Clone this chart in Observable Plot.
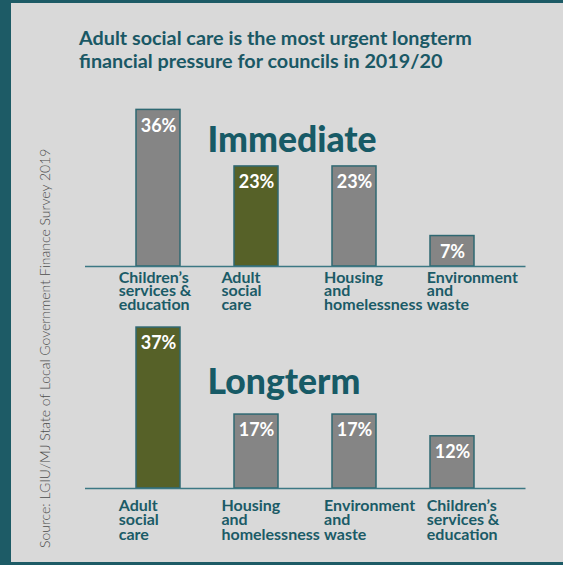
<!DOCTYPE html>
<html>
<head>
<meta charset="utf-8">
<script src="https://cdn.jsdelivr.net/npm/d3@7"></script>
<script src="https://cdn.jsdelivr.net/npm/@observablehq/plot@0.6"></script>
<style>
  html, body { margin: 0; padding: 0; background: #d9d9d9; overflow: hidden; }
  #wrap {
    position: relative; width: 563px; height: 565px; overflow: hidden;
    background: #d9d9d9;
    font-family: Lato, sans-serif;
  }
  .bd { position: absolute; background: #1d5b66; }
  #title {
    position: absolute; left: 79px; top: 25.5px;
    font-size: 19.8px; line-height: 23.5px; font-weight: 700; color: #1a5865;
    white-space: nowrap;
  }
  .panel { position: absolute; left: 0; }
  .panel svg { overflow: visible; }
  #source { position: absolute; left: 0; top: 0; overflow: visible; }
</style>
</head>
<body>
<div id="wrap">
  <div class="bd" style="left:0;top:0;width:11px;height:565px"></div>
  <div class="bd" style="left:0;top:0;width:563px;height:3px"></div>
  <div class="bd" style="left:0;top:562px;width:563px;height:3px"></div>
  <div id="title">Adult social care is the most urgent longterm<br>financial pressure for councils in 2019/20</div>
  <div class="panel" id="p1" style="top:90px"></div>
  <div class="panel" id="p2" style="top:300px"></div>
  <svg id="source" width="563" height="565"></svg>
</div>
<script>
// ---- data ----
const sourceText = "Source: LGIU/MJ State of Local Government Finance Survey 2019";
const highlightCategory = "Adult\nsocial\ncare";

const immediateTitle = "Immediate";
const immediateCategories = ["Children’s\nservices &\neducation", "Adult\nsocial\ncare", "Housing\nand\nhomelessness", "Environment\nand\nwaste"];
const immediateValues = [36, 23, 23, 7];

const longtermTitle = "Longterm";
const longtermCategories = ["Adult\nsocial\ncare", "Housing\nand\nhomelessness", "Environment\nand\nwaste", "Children’s\nservices &\neducation"];
const longtermValues = [37, 17, 17, 12];

// ---- styles ----
const GRAY = "#858585", GREEN = "#566128", STROKE = "#2f6872", AXIS = "#3c7884", TEAL = "#1b5b67";
const X_RANGE = [85, 525.5], PAD_IN = 0.55, PAD_OUT = 0.5;
const LABEL_RANGE = [117, 428]; // left edges of the category label slots

function panel({title, categories, values, height, marginTop, marginBottom, titleDy, labelDy, labelLineHeight}) {
  const data = categories.map((c, i) => ({cat: c, val: values[i]}));
  const band = d3.scaleBand().domain(categories).range(X_RANGE).paddingInner(PAD_IN).paddingOuter(PAD_OUT);
  const slot = d3.scalePoint().domain(categories).range(LABEL_RANGE);
  const labelMarks = data.map(d => Plot.text([d], {
    x: "cat", y: () => 0, text: "cat", textAnchor: "start", lineAnchor: "bottom",
    lineHeight: labelLineHeight, dx: slot(d.cat) - (band(d.cat) + band.bandwidth() / 2), dy: labelDy,
    fill: TEAL, fontWeight: 700, fontSize: 16
  }));
  return Plot.plot({
    width: 563,
    height,
    marginLeft: X_RANGE[0],
    marginRight: 563 - X_RANGE[1],
    marginTop,
    marginBottom,
    style: {fontFamily: "Lato, sans-serif", background: "transparent", overflow: "visible"},
    x: {domain: categories, type: "band", paddingInner: PAD_IN, paddingOuter: PAD_OUT, axis: null},
    y: {domain: [0, 40], axis: null},
    marks: [
      Plot.barY(data, {x: "cat", y: "val", fill: d => d.cat === highlightCategory ? GREEN : GRAY, stroke: STROKE, strokeWidth: 1.5}),
      Plot.ruleY([0], {stroke: AXIS, strokeWidth: 1.5}),
      Plot.text(data, {x: "cat", y: "val", text: d => d.val + "%", lineAnchor: "bottom", dy: 21.7, fill: "white", fontWeight: 700, fontSize: 18}),
      ...labelMarks,
      Plot.text([title], {frameAnchor: "top-left", textAnchor: "start", lineAnchor: "bottom", dx: 122, dy: titleDy, fill: "#175a66", fontWeight: 900, fontSize: 35.5})
    ]
  });
}

document.getElementById("p1").appendChild(panel({
  title: immediateTitle, categories: immediateCategories, values: immediateValues,
  height: 230, marginTop: 2, marginBottom: 54, titleDy: 59.7, labelDy: 43, labelLineHeight: 0.84
}));
document.getElementById("p2").appendChild(panel({
  title: longtermTitle, categories: longtermCategories, values: longtermValues,
  height: 265, marginTop: 14, marginBottom: 77, titleDy: 79.3, labelDy: 51.3, labelLineHeight: 0.9
}));

d3.select("#source").append("text")
  .attr("transform", "translate(50,548) rotate(-90)")
  .attr("font-family", "Lato, sans-serif")
  .attr("font-weight", 300)
  .attr("font-size", 14)
  .attr("fill", "#4d4d4d")
  .text(sourceText);
</script>
</body>
</html>
